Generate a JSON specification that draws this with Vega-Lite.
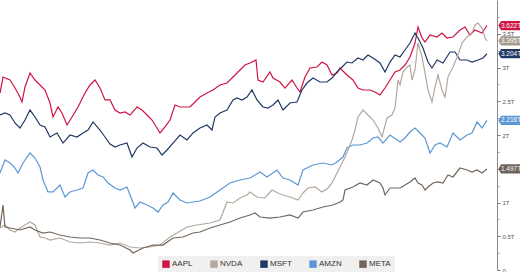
{
  "$schema": "https://vega.github.io/schema/vega-lite/v6.json",
  "width": 497,
  "height": 270,
  "autosize": "none",
  "padding": {"left": 0, "top": 0, "right": 23, "bottom": 2},
  "background": "white",
  "config": {"view": {"stroke": null}, "font": "Liberation Sans"},
  "resolve": {"axis": {"y": "independent"}},
  "datasets": {
    "ends": [
      {"s": "AAPL", "v": 3.622, "lab": "3.622T"},
      {"s": "NVDA", "v": 3.395, "lab": "3.395T"},
      {"s": "MSFT", "v": 3.204, "lab": "3.204T"},
      {"s": "AMZN", "v": 2.216, "lab": "2.216T"},
      {"s": "META", "v": 1.497, "lab": "1.497T"}
    ],
    "lines": [
      {"s":"AAPL","d":0,"v":2.622},{"s":"AAPL","d":6,"v":2.859},{"s":"AAPL","d":20,"v":2.815},{"s":"AAPL","d":30,"v":2.696},{"s":"AAPL","d":40,"v":2.563},{"s":"AAPL","d":44,"v":2.489},{"s":"AAPL","d":50,"v":2.711},{"s":"AAPL","d":60,"v":2.919},{"s":"AAPL","d":70,"v":2.815},{"s":"AAPL","d":80,"v":2.741},{"s":"AAPL","d":90,"v":2.667},{"s":"AAPL","d":100,"v":2.474},{"s":"AAPL","d":106,"v":2.267},{"s":"AAPL","d":116,"v":2.415},{"s":"AAPL","d":124,"v":2.326},{"s":"AAPL","d":134,"v":2.148},{"s":"AAPL","d":144,"v":2.267},{"s":"AAPL","d":156,"v":2.415},{"s":"AAPL","d":170,"v":2.622},{"s":"AAPL","d":180,"v":2.741},{"s":"AAPL","d":190,"v":2.815},{"s":"AAPL","d":200,"v":2.696},{"s":"AAPL","d":210,"v":2.519},{"s":"AAPL","d":220,"v":2.519},{"s":"AAPL","d":230,"v":2.370},{"s":"AAPL","d":240,"v":2.326},{"s":"AAPL","d":250,"v":2.341},{"s":"AAPL","d":260,"v":2.296},{"s":"AAPL","d":274,"v":2.415},{"s":"AAPL","d":284,"v":2.370},{"s":"AAPL","d":294,"v":2.296},{"s":"AAPL","d":304,"v":2.222},{"s":"AAPL","d":314,"v":2.104},{"s":"AAPL","d":320,"v":2.030},{"s":"AAPL","d":330,"v":2.119},{"s":"AAPL","d":340,"v":2.222},{"s":"AAPL","d":350,"v":2.444},{"s":"AAPL","d":360,"v":2.415},{"s":"AAPL","d":370,"v":2.415},{"s":"AAPL","d":380,"v":2.415},{"s":"AAPL","d":390,"v":2.489},{"s":"AAPL","d":400,"v":2.563},{"s":"AAPL","d":414,"v":2.622},{"s":"AAPL","d":426,"v":2.667},{"s":"AAPL","d":440,"v":2.741},{"s":"AAPL","d":454,"v":2.770},{"s":"AAPL","d":466,"v":2.859},{"s":"AAPL","d":480,"v":2.963},{"s":"AAPL","d":490,"v":3.037},{"s":"AAPL","d":500,"v":3.067},{"s":"AAPL","d":512,"v":3.111},{"s":"AAPL","d":516,"v":2.815},{"s":"AAPL","d":526,"v":2.785},{"s":"AAPL","d":540,"v":2.933},{"s":"AAPL","d":546,"v":2.844},{"s":"AAPL","d":560,"v":2.785},{"s":"AAPL","d":570,"v":2.696},{"s":"AAPL","d":584,"v":2.815},{"s":"AAPL","d":594,"v":2.696},{"s":"AAPL","d":600,"v":2.637},{"s":"AAPL","d":610,"v":2.859},{"s":"AAPL","d":620,"v":2.993},{"s":"AAPL","d":634,"v":3.007},{"s":"AAPL","d":644,"v":3.081},{"s":"AAPL","d":654,"v":3.037},{"s":"AAPL","d":664,"v":2.889},{"s":"AAPL","d":674,"v":2.919},{"s":"AAPL","d":680,"v":2.993},{"s":"AAPL","d":694,"v":2.889},{"s":"AAPL","d":706,"v":2.815},{"s":"AAPL","d":716,"v":2.696},{"s":"AAPL","d":726,"v":2.667},{"s":"AAPL","d":740,"v":2.667},{"s":"AAPL","d":750,"v":2.637},{"s":"AAPL","d":760,"v":2.593},{"s":"AAPL","d":770,"v":2.696},{"s":"AAPL","d":780,"v":2.815},{"s":"AAPL","d":790,"v":2.933},{"s":"AAPL","d":800,"v":2.963},{"s":"AAPL","d":810,"v":3.037},{"s":"AAPL","d":820,"v":3.156},{"s":"AAPL","d":830,"v":3.363},{"s":"AAPL","d":836,"v":3.600},{"s":"AAPL","d":844,"v":3.437},{"s":"AAPL","d":850,"v":3.378},{"s":"AAPL","d":860,"v":3.481},{"s":"AAPL","d":874,"v":3.452},{"s":"AAPL","d":884,"v":3.511},{"s":"AAPL","d":894,"v":3.437},{"s":"AAPL","d":906,"v":3.452},{"s":"AAPL","d":920,"v":3.556},{"s":"AAPL","d":930,"v":3.600},{"s":"AAPL","d":940,"v":3.481},{"s":"AAPL","d":950,"v":3.556},{"s":"AAPL","d":964,"v":3.511},{"s":"AAPL","d":974,"v":3.622},
      {"s":"MSFT","d":0,"v":2.296},{"s":"MSFT","d":10,"v":2.326},{"s":"MSFT","d":20,"v":2.296},{"s":"MSFT","d":30,"v":2.178},{"s":"MSFT","d":40,"v":2.104},{"s":"MSFT","d":50,"v":2.222},{"s":"MSFT","d":60,"v":2.370},{"s":"MSFT","d":70,"v":2.267},{"s":"MSFT","d":80,"v":2.148},{"s":"MSFT","d":90,"v":2.119},{"s":"MSFT","d":100,"v":1.970},{"s":"MSFT","d":114,"v":2.030},{"s":"MSFT","d":126,"v":1.881},{"s":"MSFT","d":140,"v":2.000},{"s":"MSFT","d":154,"v":1.970},{"s":"MSFT","d":166,"v":2.030},{"s":"MSFT","d":176,"v":2.074},{"s":"MSFT","d":186,"v":2.193},{"s":"MSFT","d":200,"v":2.074},{"s":"MSFT","d":210,"v":1.970},{"s":"MSFT","d":220,"v":1.867},{"s":"MSFT","d":230,"v":1.822},{"s":"MSFT","d":240,"v":1.852},{"s":"MSFT","d":254,"v":1.881},{"s":"MSFT","d":264,"v":1.674},{"s":"MSFT","d":274,"v":1.807},{"s":"MSFT","d":286,"v":1.881},{"s":"MSFT","d":300,"v":1.822},{"s":"MSFT","d":314,"v":1.807},{"s":"MSFT","d":324,"v":1.704},{"s":"MSFT","d":334,"v":1.778},{"s":"MSFT","d":346,"v":1.881},{"s":"MSFT","d":360,"v":2.000},{"s":"MSFT","d":374,"v":1.926},{"s":"MSFT","d":386,"v":2.030},{"s":"MSFT","d":400,"v":2.104},{"s":"MSFT","d":414,"v":2.148},{"s":"MSFT","d":424,"v":2.074},{"s":"MSFT","d":430,"v":2.267},{"s":"MSFT","d":440,"v":2.326},{"s":"MSFT","d":454,"v":2.370},{"s":"MSFT","d":466,"v":2.519},{"s":"MSFT","d":474,"v":2.548},{"s":"MSFT","d":484,"v":2.519},{"s":"MSFT","d":494,"v":2.563},{"s":"MSFT","d":504,"v":2.667},{"s":"MSFT","d":514,"v":2.519},{"s":"MSFT","d":526,"v":2.415},{"s":"MSFT","d":536,"v":2.400},{"s":"MSFT","d":546,"v":2.444},{"s":"MSFT","d":556,"v":2.519},{"s":"MSFT","d":566,"v":2.370},{"s":"MSFT","d":580,"v":2.474},{"s":"MSFT","d":594,"v":2.489},{"s":"MSFT","d":604,"v":2.667},{"s":"MSFT","d":614,"v":2.770},{"s":"MSFT","d":626,"v":2.844},{"s":"MSFT","d":640,"v":2.785},{"s":"MSFT","d":654,"v":2.785},{"s":"MSFT","d":664,"v":2.844},{"s":"MSFT","d":674,"v":2.933},{"s":"MSFT","d":684,"v":3.007},{"s":"MSFT","d":694,"v":3.081},{"s":"MSFT","d":704,"v":3.067},{"s":"MSFT","d":716,"v":3.141},{"s":"MSFT","d":726,"v":3.111},{"s":"MSFT","d":736,"v":3.185},{"s":"MSFT","d":746,"v":3.141},{"s":"MSFT","d":760,"v":3.067},{"s":"MSFT","d":770,"v":2.933},{"s":"MSFT","d":780,"v":3.081},{"s":"MSFT","d":790,"v":3.185},{"s":"MSFT","d":800,"v":3.156},{"s":"MSFT","d":810,"v":3.259},{"s":"MSFT","d":820,"v":3.363},{"s":"MSFT","d":830,"v":3.511},{"s":"MSFT","d":836,"v":3.437},{"s":"MSFT","d":846,"v":3.289},{"s":"MSFT","d":856,"v":3.081},{"s":"MSFT","d":864,"v":2.993},{"s":"MSFT","d":874,"v":3.111},{"s":"MSFT","d":886,"v":3.067},{"s":"MSFT","d":900,"v":3.230},{"s":"MSFT","d":910,"v":3.230},{"s":"MSFT","d":920,"v":3.111},{"s":"MSFT","d":934,"v":3.111},{"s":"MSFT","d":944,"v":3.081},{"s":"MSFT","d":956,"v":3.111},{"s":"MSFT","d":966,"v":3.141},{"s":"MSFT","d":974,"v":3.204},
      {"s":"AMZN","d":0,"v":1.437},{"s":"AMZN","d":10,"v":1.630},{"s":"AMZN","d":20,"v":1.585},{"s":"AMZN","d":30,"v":1.511},{"s":"AMZN","d":36,"v":1.437},{"s":"AMZN","d":46,"v":1.585},{"s":"AMZN","d":60,"v":1.733},{"s":"AMZN","d":70,"v":1.659},{"s":"AMZN","d":80,"v":1.526},{"s":"AMZN","d":86,"v":1.333},{"s":"AMZN","d":96,"v":1.156},{"s":"AMZN","d":106,"v":1.156},{"s":"AMZN","d":120,"v":1.259},{"s":"AMZN","d":130,"v":1.081},{"s":"AMZN","d":140,"v":1.156},{"s":"AMZN","d":154,"v":1.185},{"s":"AMZN","d":166,"v":1.215},{"s":"AMZN","d":176,"v":1.437},{"s":"AMZN","d":186,"v":1.481},{"s":"AMZN","d":196,"v":1.407},{"s":"AMZN","d":206,"v":1.378},{"s":"AMZN","d":216,"v":1.289},{"s":"AMZN","d":230,"v":1.215},{"s":"AMZN","d":240,"v":1.185},{"s":"AMZN","d":254,"v":1.230},{"s":"AMZN","d":264,"v":1.037},{"s":"AMZN","d":270,"v":0.919},{"s":"AMZN","d":280,"v":1.007},{"s":"AMZN","d":294,"v":0.963},{"s":"AMZN","d":306,"v":0.919},{"s":"AMZN","d":316,"v":0.859},{"s":"AMZN","d":326,"v":0.963},{"s":"AMZN","d":336,"v":1.007},{"s":"AMZN","d":346,"v":1.141},{"s":"AMZN","d":360,"v":1.037},{"s":"AMZN","d":374,"v":0.993},{"s":"AMZN","d":386,"v":1.007},{"s":"AMZN","d":400,"v":1.022},{"s":"AMZN","d":420,"v":1.081},{"s":"AMZN","d":440,"v":1.185},{"s":"AMZN","d":460,"v":1.289},{"s":"AMZN","d":480,"v":1.333},{"s":"AMZN","d":500,"v":1.363},{"s":"AMZN","d":520,"v":1.452},{"s":"AMZN","d":534,"v":1.378},{"s":"AMZN","d":554,"v":1.481},{"s":"AMZN","d":566,"v":1.363},{"s":"AMZN","d":580,"v":1.333},{"s":"AMZN","d":596,"v":1.259},{"s":"AMZN","d":606,"v":1.481},{"s":"AMZN","d":626,"v":1.556},{"s":"AMZN","d":646,"v":1.585},{"s":"AMZN","d":664,"v":1.556},{"s":"AMZN","d":674,"v":1.600},{"s":"AMZN","d":686,"v":1.674},{"s":"AMZN","d":694,"v":1.807},{"s":"AMZN","d":706,"v":1.852},{"s":"AMZN","d":720,"v":1.852},{"s":"AMZN","d":734,"v":1.881},{"s":"AMZN","d":746,"v":1.956},{"s":"AMZN","d":756,"v":1.970},{"s":"AMZN","d":766,"v":1.881},{"s":"AMZN","d":780,"v":2.000},{"s":"AMZN","d":800,"v":1.896},{"s":"AMZN","d":810,"v":1.956},{"s":"AMZN","d":820,"v":2.044},{"s":"AMZN","d":830,"v":2.104},{"s":"AMZN","d":840,"v":2.030},{"s":"AMZN","d":850,"v":1.956},{"s":"AMZN","d":860,"v":1.733},{"s":"AMZN","d":870,"v":1.852},{"s":"AMZN","d":880,"v":1.881},{"s":"AMZN","d":894,"v":1.822},{"s":"AMZN","d":906,"v":2.030},{"s":"AMZN","d":920,"v":1.926},{"s":"AMZN","d":934,"v":2.000},{"s":"AMZN","d":944,"v":2.030},{"s":"AMZN","d":954,"v":2.193},{"s":"AMZN","d":964,"v":2.104},{"s":"AMZN","d":974,"v":2.216},
      {"s":"NVDA","d":0,"v":0.622},{"s":"NVDA","d":10,"v":0.667},{"s":"NVDA","d":20,"v":0.593},{"s":"NVDA","d":30,"v":0.563},{"s":"NVDA","d":40,"v":0.622},{"s":"NVDA","d":50,"v":0.667},{"s":"NVDA","d":60,"v":0.711},{"s":"NVDA","d":70,"v":0.667},{"s":"NVDA","d":80,"v":0.489},{"s":"NVDA","d":90,"v":0.474},{"s":"NVDA","d":100,"v":0.444},{"s":"NVDA","d":120,"v":0.474},{"s":"NVDA","d":140,"v":0.415},{"s":"NVDA","d":160,"v":0.400},{"s":"NVDA","d":180,"v":0.415},{"s":"NVDA","d":200,"v":0.400},{"s":"NVDA","d":220,"v":0.370},{"s":"NVDA","d":240,"v":0.400},{"s":"NVDA","d":260,"v":0.341},{"s":"NVDA","d":280,"v":0.326},{"s":"NVDA","d":300,"v":0.341},{"s":"NVDA","d":320,"v":0.370},{"s":"NVDA","d":340,"v":0.489},{"s":"NVDA","d":354,"v":0.548},{"s":"NVDA","d":374,"v":0.637},{"s":"NVDA","d":394,"v":0.667},{"s":"NVDA","d":420,"v":0.696},{"s":"NVDA","d":440,"v":0.741},{"s":"NVDA","d":454,"v":1.007},{"s":"NVDA","d":466,"v":0.993},{"s":"NVDA","d":480,"v":1.067},{"s":"NVDA","d":494,"v":1.111},{"s":"NVDA","d":500,"v":1.156},{"s":"NVDA","d":514,"v":1.081},{"s":"NVDA","d":530,"v":1.067},{"s":"NVDA","d":544,"v":1.185},{"s":"NVDA","d":556,"v":1.141},{"s":"NVDA","d":566,"v":1.111},{"s":"NVDA","d":580,"v":1.081},{"s":"NVDA","d":596,"v":1.037},{"s":"NVDA","d":606,"v":1.141},{"s":"NVDA","d":616,"v":1.215},{"s":"NVDA","d":630,"v":1.230},{"s":"NVDA","d":644,"v":1.156},{"s":"NVDA","d":656,"v":1.215},{"s":"NVDA","d":664,"v":1.289},{"s":"NVDA","d":670,"v":1.378},{"s":"NVDA","d":680,"v":1.526},{"s":"NVDA","d":690,"v":1.674},{"s":"NVDA","d":696,"v":1.778},{"s":"NVDA","d":704,"v":1.926},{"s":"NVDA","d":710,"v":2.074},{"s":"NVDA","d":716,"v":2.267},{"s":"NVDA","d":726,"v":2.370},{"s":"NVDA","d":736,"v":2.296},{"s":"NVDA","d":746,"v":2.222},{"s":"NVDA","d":756,"v":2.104},{"s":"NVDA","d":764,"v":1.970},{"s":"NVDA","d":774,"v":2.252},{"s":"NVDA","d":784,"v":2.296},{"s":"NVDA","d":790,"v":2.400},{"s":"NVDA","d":796,"v":2.815},{"s":"NVDA","d":800,"v":2.741},{"s":"NVDA","d":806,"v":2.933},{"s":"NVDA","d":814,"v":3.007},{"s":"NVDA","d":820,"v":3.037},{"s":"NVDA","d":824,"v":2.815},{"s":"NVDA","d":830,"v":2.963},{"s":"NVDA","d":836,"v":3.363},{"s":"NVDA","d":844,"v":3.156},{"s":"NVDA","d":850,"v":2.919},{"s":"NVDA","d":856,"v":2.667},{"s":"NVDA","d":864,"v":2.489},{"s":"NVDA","d":870,"v":2.711},{"s":"NVDA","d":876,"v":2.889},{"s":"NVDA","d":884,"v":2.667},{"s":"NVDA","d":890,"v":2.563},{"s":"NVDA","d":896,"v":2.859},{"s":"NVDA","d":906,"v":3.007},{"s":"NVDA","d":916,"v":3.185},{"s":"NVDA","d":924,"v":3.363},{"s":"NVDA","d":934,"v":3.452},{"s":"NVDA","d":944,"v":3.511},{"s":"NVDA","d":950,"v":3.630},{"s":"NVDA","d":956,"v":3.659},{"s":"NVDA","d":964,"v":3.585},{"s":"NVDA","d":970,"v":3.437},{"s":"NVDA","d":974,"v":3.395},
      {"s":"META","d":0,"v":0.637},{"s":"META","d":6,"v":0.963},{"s":"META","d":10,"v":0.637},{"s":"META","d":20,"v":0.622},{"s":"META","d":40,"v":0.593},{"s":"META","d":60,"v":0.637},{"s":"META","d":70,"v":0.593},{"s":"META","d":86,"v":0.548},{"s":"META","d":100,"v":0.563},{"s":"META","d":120,"v":0.519},{"s":"META","d":140,"v":0.489},{"s":"META","d":160,"v":0.474},{"s":"META","d":180,"v":0.474},{"s":"META","d":200,"v":0.444},{"s":"META","d":220,"v":0.400},{"s":"META","d":240,"v":0.370},{"s":"META","d":260,"v":0.296},{"s":"META","d":266,"v":0.252},{"s":"META","d":286,"v":0.326},{"s":"META","d":306,"v":0.370},{"s":"META","d":326,"v":0.370},{"s":"META","d":346,"v":0.474},{"s":"META","d":366,"v":0.489},{"s":"META","d":386,"v":0.548},{"s":"META","d":400,"v":0.563},{"s":"META","d":420,"v":0.622},{"s":"META","d":440,"v":0.667},{"s":"META","d":460,"v":0.711},{"s":"META","d":480,"v":0.770},{"s":"META","d":500,"v":0.815},{"s":"META","d":510,"v":0.844},{"s":"META","d":520,"v":0.785},{"s":"META","d":540,"v":0.770},{"s":"META","d":560,"v":0.785},{"s":"META","d":580,"v":0.815},{"s":"META","d":596,"v":0.770},{"s":"META","d":606,"v":0.859},{"s":"META","d":626,"v":0.889},{"s":"META","d":646,"v":0.933},{"s":"META","d":666,"v":0.963},{"s":"META","d":680,"v":1.007},{"s":"META","d":686,"v":1.037},{"s":"META","d":690,"v":1.185},{"s":"META","d":706,"v":1.230},{"s":"META","d":720,"v":1.289},{"s":"META","d":734,"v":1.259},{"s":"META","d":746,"v":1.333},{"s":"META","d":760,"v":1.289},{"s":"META","d":766,"v":1.215},{"s":"META","d":770,"v":1.111},{"s":"META","d":780,"v":1.215},{"s":"META","d":800,"v":1.215},{"s":"META","d":810,"v":1.259},{"s":"META","d":820,"v":1.304},{"s":"META","d":830,"v":1.363},{"s":"META","d":836,"v":1.289},{"s":"META","d":844,"v":1.259},{"s":"META","d":850,"v":1.185},{"s":"META","d":856,"v":1.230},{"s":"META","d":866,"v":1.289},{"s":"META","d":876,"v":1.304},{"s":"META","d":886,"v":1.289},{"s":"META","d":896,"v":1.407},{"s":"META","d":906,"v":1.378},{"s":"META","d":920,"v":1.511},{"s":"META","d":934,"v":1.481},{"s":"META","d":944,"v":1.452},{"s":"META","d":954,"v":1.481},{"s":"META","d":964,"v":1.437},{"s":"META","d":974,"v":1.497}
    ]
  },
  "layer": [
    {
      "data": {"name": "lines"},
      "mark": {"type": "line", "strokeWidth": 1.2},
      "encoding": {
        "x": {"field": "d", "type": "quantitative", "scale": {"domain": [0, 994], "nice": false}, "axis": null},
        "y": {
          "field": "v", "type": "quantitative",
          "scale": {"domain": [0, 4], "nice": false},
          "axis": {
            "orient": "right", "title": null, "grid": false,
            "values": [0, 0.5, 1, 1.5, 2, 2.5, 3, 3.5],
            "labelExpr": "datum.value === 0 ? '0' : (datum.value === 1.5 ? '' : datum.value + 'T')",
            "labelOverlap": false, "labelBound": false, "labelFlush": false,
            "labelFontSize": 6, "labelColor": "#555", "labelPadding": 2,
            "tickColor": "#777", "domainColor": "#888", "tickSize": 3
          }
        },
        "color": {
          "field": "s", "type": "nominal",
          "scale": {"domain": ["AAPL", "NVDA", "MSFT", "AMZN", "META"], "range": ["#cf1442", "#b3a99f", "#1f3864", "#5b97d6", "#72665c"]},
          "legend": {
            "title": null, "orient": "none", "legendX": 158, "legendY": 256, "direction": "horizontal",
            "fillColor": "#f0f0f0", "padding": 4, "symbolType": "square", "symbolSize": 12, "symbolStrokeWidth": 4,
            "labelFontSize": 8, "labelColor": "#333", "columnPadding": 11, "labelOffset": 2
          }
        }
      }
    },
    {
      "data": {"name": "ends"},
      "mark": {"type": "point", "shape": "M -1.15 0 L -0.9 -0.42 L 1 -0.42 L 1 0.42 L -0.9 0.42 Z", "filled": true, "opacity": 1, "size": 484, "clip": false},
      "encoding": {
        "x": {"datum": 1022, "type": "quantitative"},
        "y": {
          "field": "v", "type": "quantitative",
          "axis": {
            "orient": "right", "title": null, "grid": false, "labels": false, "domain": false,
            "values": [0.25, 0.75, 1.25, 1.75, 2.25, 2.75, 3.25, 3.75],
            "tickColor": "#999", "tickSize": 2
          }
        },
        "fill": {
          "field": "s", "type": "nominal",
          "scale": {"domain": ["AAPL", "NVDA", "MSFT", "AMZN", "META"], "range": ["#cf1442", "#a59a8e", "#1f3864", "#5b97d6", "#6e6259"]},
          "legend": null
        }
      }
    },
    {
      "data": {"name": "ends"},
      "mark": {"type": "text", "color": "white", "fontSize": 6.5, "align": "center", "baseline": "middle", "clip": false},
      "encoding": {
        "x": {"datum": 1022, "type": "quantitative"},
        "y": {"field": "v", "type": "quantitative", "axis": null},
        "text": {"field": "lab"}
      }
    }
  ]
}
